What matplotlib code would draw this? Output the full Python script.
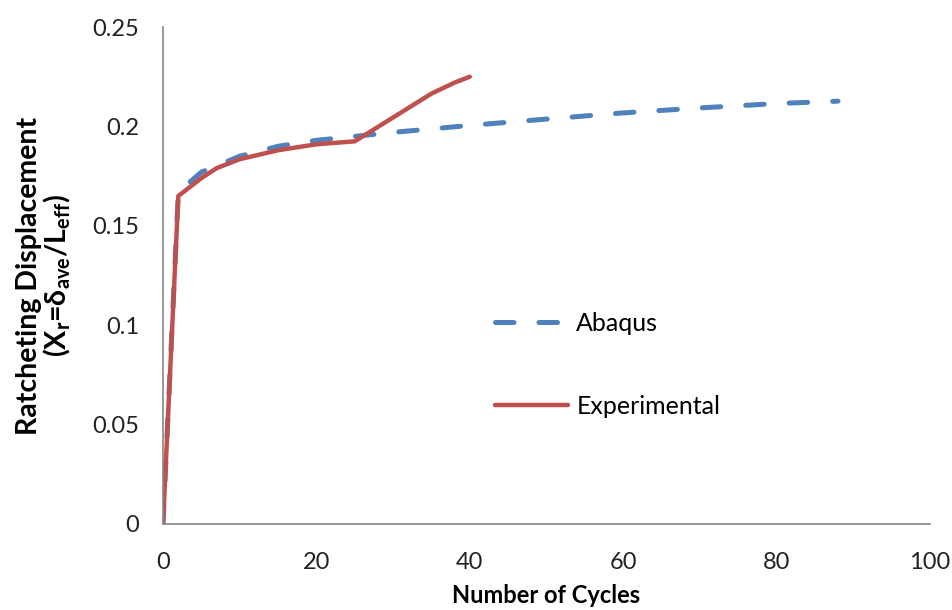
import matplotlib
matplotlib.use("Agg")
import matplotlib.pyplot as plt

plt.rcParams['font.family'] = ['Lato', 'DejaVu Sans']
plt.rcParams['mathtext.fontset'] = 'custom'
plt.rcParams['mathtext.rm'] = 'Lato'
plt.rcParams['mathtext.bf'] = 'Lato:bold'
plt.rcParams['mathtext.it'] = 'Lato:italic'

# values
abaqus_cycles = [0, 2, 5, 10, 15, 20, 25, 30, 40, 50, 60, 70, 80, 88]
abaqus_disp = [0, 0.167, 0.177, 0.185, 0.190, 0.193, 0.195, 0.197,
               0.2005, 0.2037, 0.2068, 0.2093, 0.2115, 0.2127]

exp_cycles = [0, 0.5, 2, 5, 7, 10, 15, 20, 25, 30, 35, 38, 40]
exp_disp = [0, 0.041, 0.165, 0.174, 0.179, 0.1835, 0.188, 0.191, 0.1925,
            0.2045, 0.2165, 0.222, 0.225]

x_ticks = [0, 20, 40, 60, 80, 100]
y_ticks = [0, 0.05, 0.1, 0.15, 0.2, 0.25]
y_tick_labels = ["0", "0.05", "0.1", "0.15", "0.2", "0.25"]

blue = "#4F81BD"
red = "#C0504D"
axis_col = "#868686"

fig = plt.figure(figsize=(9.52, 6.1), dpi=100)
ax = fig.add_axes([0.1712, 0.141, 0.8057, 0.8147])

ax.plot(abaqus_cycles, abaqus_disp, color=blue, linewidth=3.6,
        linestyle=(0, (3.7, 5.0)), dash_capstyle="round", label="Abaqus")
ax.plot(exp_cycles, exp_disp, color=red, linewidth=3.2,
        solid_capstyle="round", label="Experimental")

ax.set_xlim(0, 100)
ax.set_ylim(0, 0.25)
ax.set_xticks(x_ticks)
ax.set_yticks(y_ticks)
ax.set_yticklabels(y_tick_labels)
ax.tick_params(axis="y", length=0, pad=17, labelsize=17, colors="#222222")
ax.tick_params(axis="x", length=0, pad=20, labelsize=17, colors="#222222")

for side in ["top", "right"]:
    ax.spines[side].set_visible(False)
for side in ["left", "bottom"]:
    ax.spines[side].set_color(axis_col)
    ax.spines[side].set_linewidth(1.2)

ax.set_xlabel("Number of Cycles", fontsize=17, fontweight="bold", labelpad=8)
ax.set_ylabel("Ratcheting Displacement\n"
              r"(X$_\mathbf{r}$=δ$_\mathbf{ave}$/L$_\mathbf{eff}$)",
              fontsize=20.5, fontweight="bold", labelpad=14, linespacing=1.0)

ax.legend(loc="center left", bbox_to_anchor=(0.52, 0.4016),
          bbox_transform=fig.transFigure, frameon=False, fontsize=18,
          handlelength=2.9, handletextpad=0.35, labelspacing=2.4,
          borderpad=0, borderaxespad=0)

fig.savefig("out.png", dpi=100)
